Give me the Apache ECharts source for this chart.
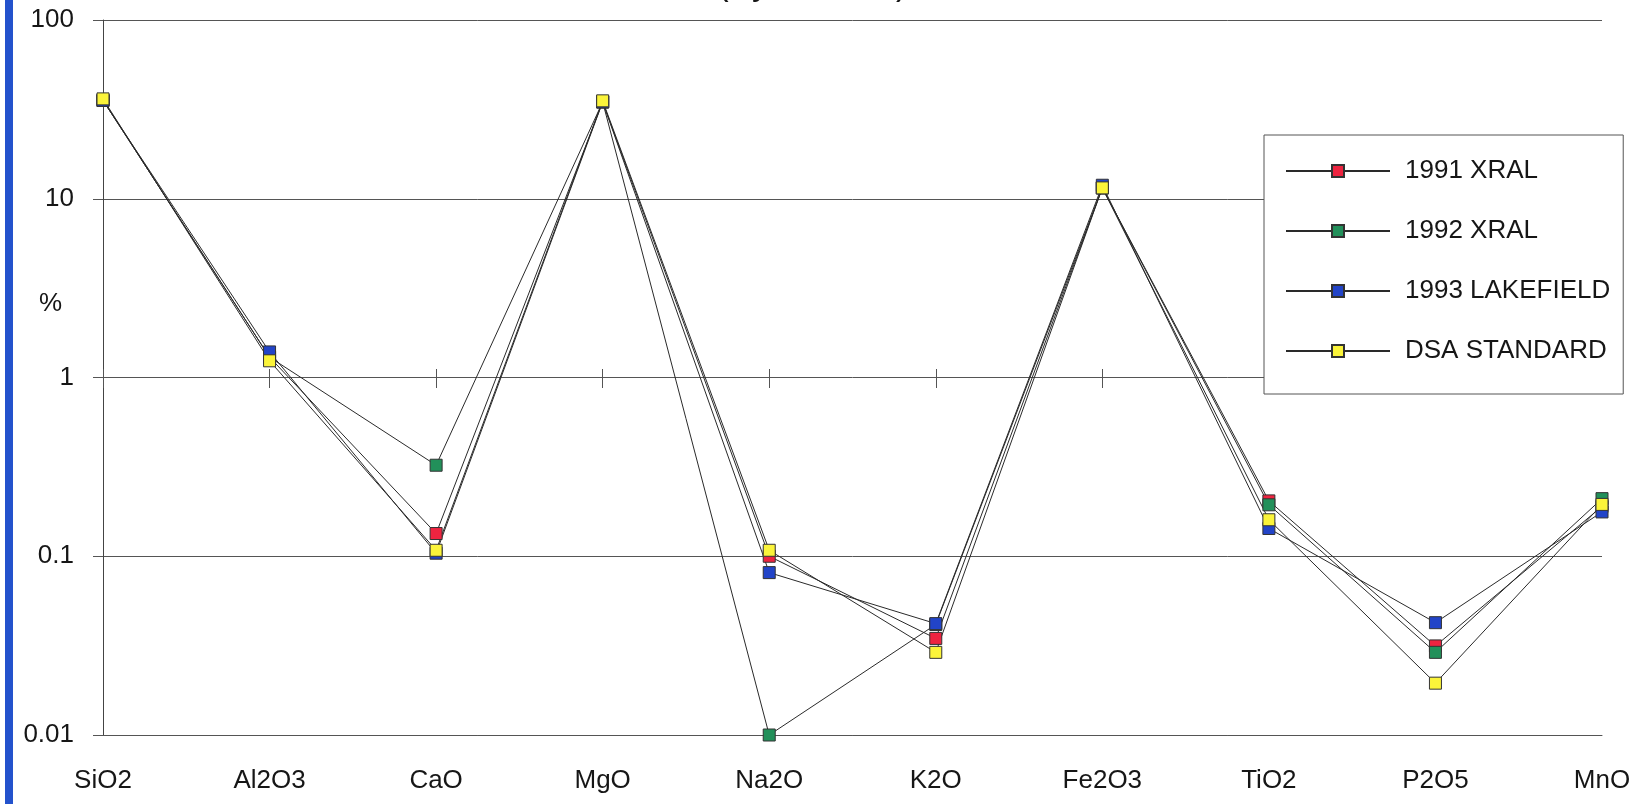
<!DOCTYPE html>
<html>
<head>
<meta charset="utf-8">
<title>Head assays</title>
<script src="https://cdn.jsdelivr.net/npm/echarts@6/dist/echarts.min.js"></script>
<style>
  html, body { margin: 0; padding: 0; background: #ffffff; }
  #chart { width: 1650px; height: 804px; }
</style>
</head>
<body>
<div id="chart"></div>
<script>
// Oxide categories along the x axis
const categories = ['SiO2', 'Al2O3', 'CaO', 'MgO', 'Na2O', 'K2O', 'Fe2O3', 'TiO2', 'P2O5', 'MnO'];

// Assay results, weight %
const xral1991 =      [35.5, 1.30, 0.134, 34.8, 0.100, 0.0347, 11.5, 0.204, 0.0315, 0.190];
const xral1992 =      [35.5, 1.30, 0.323, 34.8, 0.010, 0.0415, 11.5, 0.194, 0.0290, 0.210];
const lakefield1993 = [35.5, 1.39, 0.104, 34.8, 0.081, 0.0420, 11.9, 0.143, 0.0425, 0.177];
const dsaStandard =   [36.2, 1.24, 0.108, 35.3, 0.108, 0.0290, 11.5, 0.160, 0.0195, 0.195];

const seriesNames = ['1991 XRAL', '1992 XRAL', '1993 LAKEFIELD', 'DSA STANDARD'];
const seriesColors = ['#ee2440', '#22905a', '#2244c8', '#fbf43a'];

const FONT = 'Liberation Sans, Arial, Helvetica, sans-serif';
const INK = '#161616';
const RULE = '#555555';

function makeSeries(name, values, color) {
  return {
    name: name,
    type: 'line',
    data: values,
    xAxisIndex: 0,
    yAxisIndex: 0,
    symbol: 'rect',
    symbolSize: 12,
    showSymbol: true,
    animation: false,
    lineStyle: { color: '#2a2a2a', width: 1 },
    itemStyle: { color: color, borderColor: '#333333', borderWidth: 1 },
    emphasis: { disabled: true }
  };
}

const chart = echarts.init(document.getElementById('chart'), null, { renderer: 'canvas' });

chart.setOption({
  backgroundColor: '#ffffff',
  animation: false,
  grid: { left: 103, right: 48, top: 20, bottom: 69, containLabel: false },
  xAxis: [
    {
      type: 'category',
      data: categories,
      boundaryGap: false,
      position: 'bottom',
      axisLine: { show: true, lineStyle: { color: RULE, width: 1 } },
      axisTick: { show: false },
      axisLabel: { margin: 33, fontSize: 26, color: INK, fontFamily: FONT, interval: 0 },
      splitLine: { show: false }
    },
    // Category ticks crossing the 1 % line (upper half)
    {
      type: 'category',
      data: categories,
      boundaryGap: false,
      position: 'bottom',
      offset: -358,
      axisLine: { show: false },
      axisTick: { show: true, inside: true, length: 8, interval: 0, lineStyle: { color: RULE, width: 1 } },
      axisLabel: { show: false },
      splitLine: { show: false }
    },
    // Category ticks crossing the 1 % line (lower half)
    {
      type: 'category',
      data: categories,
      boundaryGap: false,
      position: 'top',
      offset: -357,
      axisLine: { show: false },
      axisTick: { show: true, inside: true, length: 11, interval: 0, lineStyle: { color: RULE, width: 1 } },
      axisLabel: { show: false },
      splitLine: { show: false }
    }
  ],
  yAxis: {
    type: 'log',
    logBase: 10,
    min: 0.01,
    max: 100,
    axisLine: { show: true, lineStyle: { color: '#444444', width: 1 } },
    axisTick: { show: true, length: 10, lineStyle: { color: RULE, width: 1 } },
    axisLabel: {
      margin: 29,
      fontSize: 26,
      color: INK,
      fontFamily: FONT,
      formatter: function (v) { return String(+v.toPrecision(6)); }
    },
    splitLine: { show: true, lineStyle: { color: RULE, width: 1 } }
  },
  legend: {
    orient: 'vertical',
    left: 1264,
    top: 135,
    padding: [23, 13, 30, 21],
    itemWidth: 104,
    itemHeight: 15,
    itemGap: 34,
    backgroundColor: '#ffffff',
    borderColor: '#555555',
    borderWidth: 1,
    selectedMode: false,
    textStyle: { fontSize: 26, color: INK, fontFamily: FONT, padding: [0, 0, 0, 10] },
    data: seriesNames
  },
  graphic: [
    // blue binding strip on the left edge
    { type: 'rect', left: 5, top: 0, shape: { width: 8, height: 804 }, style: { fill: '#2352cc' }, z: 10 },
    // y-axis unit
    { type: 'text', left: 39, top: 291, style: { text: '%', font: '26px ' + FONT, fill: INK }, z: 10 },
    // chart heading, mostly above the page edge
    { type: 'text', x: 717, y: 3, style: { text: '(By Method)', font: '35px ' + FONT, fill: INK, verticalAlign: 'bottom' }, z: 10 }
  ],
  series: [
    makeSeries(seriesNames[0], xral1991, seriesColors[0]),
    makeSeries(seriesNames[1], xral1992, seriesColors[1]),
    makeSeries(seriesNames[2], lakefield1993, seriesColors[2]),
    makeSeries(seriesNames[3], dsaStandard, seriesColors[3])
  ]
});
</script>
</body>
</html>
